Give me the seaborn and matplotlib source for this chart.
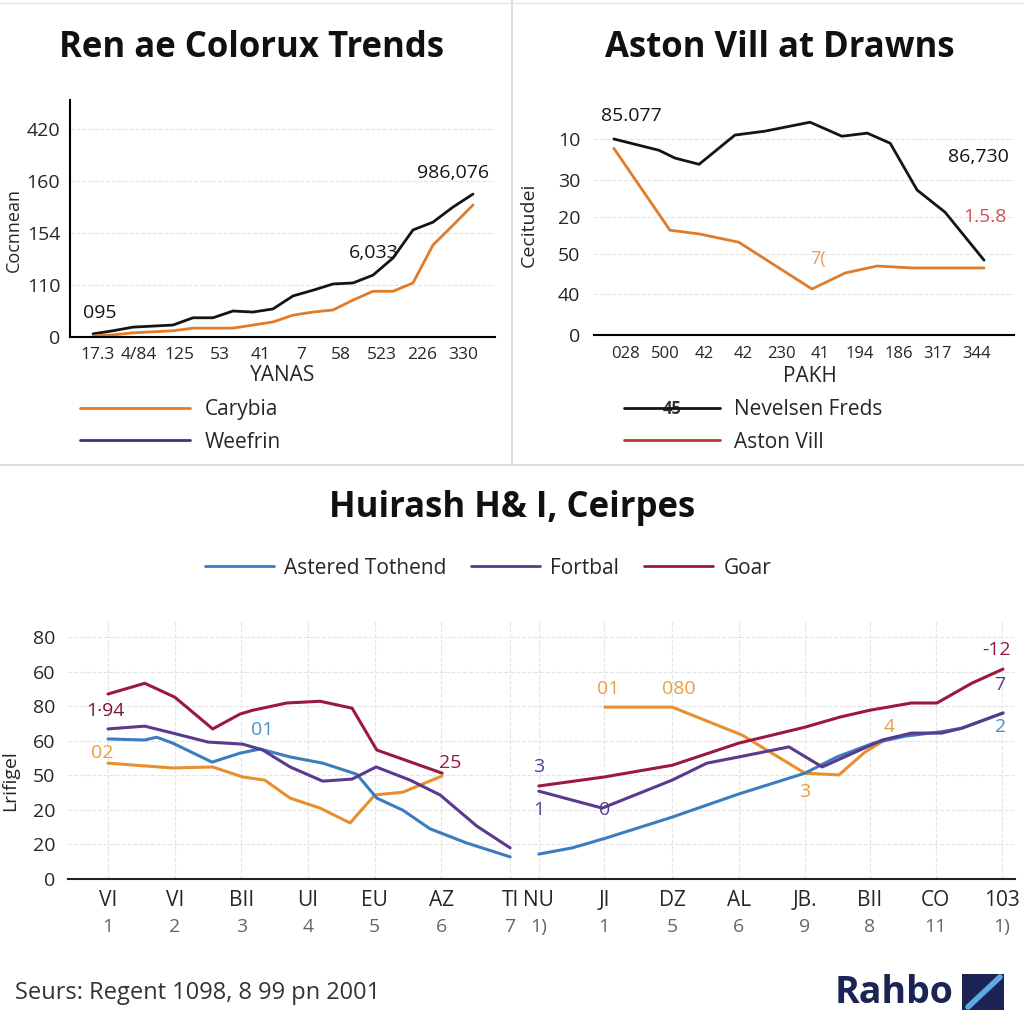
import numpy as np
import pandas as pd
import matplotlib.pyplot as plt
from matplotlib.lines import Line2D
from matplotlib.patches import Rectangle
import seaborn as sns

# ---- top left panel data
tl_xlabels = ['17.3', '4/84', '125', '53', '41', '7', '58', '523', '226', '330']
tl_ylabels = ['0', '110', '154', '160', '420']
tl_step = list(range(20))
tl_black = [0.06, 0.12, 0.19, 0.21, 0.23, 0.37, 0.37, 0.50, 0.48, 0.54,
            0.79, 0.90, 1.02, 1.04, 1.19, 1.52, 2.06, 2.21, 2.50, 2.75]
carybia = [0.02, 0.04, 0.08, 0.10, 0.12, 0.17, 0.17, 0.17, 0.23, 0.29,
           0.42, 0.48, 0.52, 0.71, 0.88, 0.88, 1.04, 1.77, 2.15, 2.54]

# ---- top right panel data
tr_xlabels = ['028', '500', '42', '42', '230', '41', '194', '186', '317', '344']
tr_ylabels = ['0', '40', '50', '20', '30', '10']
nevelsen_x = [-0.31, 0.85, 1.26, 1.88, 2.80, 3.57, 4.73, 5.55, 6.20, 6.79, 7.48, 8.20, 9.20]
nevelsen_y = [5.03, 4.74, 4.54, 4.38, 5.13, 5.23, 5.46, 5.10, 5.18, 4.92, 3.72, 3.15, 1.92]
aston_x = [-0.31, 1.13, 1.90, 2.90, 4.78, 5.63, 6.45, 7.35, 9.20]
aston_y = [4.79, 2.69, 2.59, 2.38, 1.18, 1.59, 1.77, 1.72, 1.72]

# ---- bottom panel data
b_top_labels = ['VI', 'VI', 'BII', 'UI', 'EU', 'AZ', 'TI', 'NU', 'JI', 'DZ', 'AL', 'JB.', 'BII', 'CO', '103']
b_sub_labels = ['1', '2', '3', '4', '5', '6', '7', '1)', '1', '5', '6', '9', '8', '11', '1)']
b_ylabels = ['0', '20', '20', '50', '60', '80', '60', '80']

goar_l_x = [0, 0.55, 1.0, 1.57, 1.98, 2.17, 2.68, 3.18, 3.66, 4.03, 5.01]
goar_l_y = [5.35, 5.66, 5.26, 4.34, 4.77, 4.88, 5.09, 5.14, 4.94, 3.73, 3.06]
goar_r_x = [6.46, 7.44, 8.46, 9.46, 10.45, 10.97, 11.42, 12.05, 12.43, 12.95, 13.42]
goar_r_y = [2.69, 2.95, 3.29, 3.93, 4.39, 4.68, 4.88, 5.09, 5.09, 5.66, 6.07]

fort_l_x = [0, 0.55, 0.97, 1.5, 2.02, 2.32, 2.73, 3.22, 3.66, 4.02, 4.53, 4.98, 5.53, 6.03]
fort_l_y = [4.34, 4.42, 4.22, 3.96, 3.90, 3.73, 3.24, 2.83, 2.89, 3.24, 2.86, 2.43, 1.53, 0.90]
fort_r_x = [6.46, 7.41, 8.46, 8.98, 9.46, 10.21, 10.71, 11.61, 12.05, 12.5, 12.8, 13.42]
fort_r_y = [2.54, 2.05, 2.86, 3.35, 3.53, 3.82, 3.24, 4.02, 4.22, 4.22, 4.36, 4.80]

ast_l_x = [0, 0.55, 0.73, 0.97, 1.56, 1.98, 2.28, 2.73, 3.22, 3.73, 4.03, 4.42, 4.83, 5.38, 6.03]
ast_l_y = [4.05, 4.02, 4.10, 3.93, 3.38, 3.64, 3.76, 3.53, 3.35, 3.03, 2.34, 1.99, 1.45, 1.04, 0.64]
ast_r_x = [6.46, 6.96, 7.46, 8.46, 9.46, 10.45, 10.93, 11.48, 11.95, 12.46, 12.8, 13.42]
ast_r_y = [0.72, 0.90, 1.18, 1.79, 2.46, 3.06, 3.53, 3.93, 4.13, 4.25, 4.36, 4.80]

orng_l_x = [0, 0.97, 1.57, 2.02, 2.35, 2.73, 3.18, 3.63, 4.0, 4.42, 5.01]
orng_l_y = [3.35, 3.21, 3.24, 2.95, 2.86, 2.34, 2.05, 1.62, 2.43, 2.51, 2.98]
orng_r_x = [7.45, 8.46, 9.51, 10.45, 10.96, 11.35, 11.65]
orng_r_y = [4.97, 4.97, 4.16, 3.06, 3.01, 3.67, 4.02]

sns.set_theme(style="white")
plt.rcParams['font.family'] = ['Open Sans', 'DejaVu Sans']

ORANGE = '#e07b2a'
BLACK = '#141414'
PURPLE = '#4a2d7d'
BLUE = '#3b7dbf'
FPURPLE = '#5a3a8e'
DRED = '#9a1842'
BORANGE = '#e8902e'
GRID = dict(color='#e4e4e4', linestyle='--', linewidth=0.8)

fig = plt.figure(figsize=(10.24, 10.24), dpi=100)
fig.patch.set_facecolor('white')

# panel border lines
fig.add_artist(Line2D([0.5, 0.5], [1 - 465 / 1024, 1], color='#d8d8d8', lw=1.2))
fig.add_artist(Line2D([0, 1], [1 - 465 / 1024, 1 - 465 / 1024], color='#d8d8d8', lw=1.2))
fig.add_artist(Line2D([0, 1], [0.997, 0.997], color='#e4e4e4', lw=1.0))

# ================= top left
ax1 = fig.add_axes([70 / 1024, 1 - 337 / 1024, 425 / 1024, 237 / 1024])
sns.lineplot(x=tl_step, y=tl_black, ax=ax1, color=BLACK, linewidth=2, legend=False)
sns.lineplot(x=tl_step, y=carybia, ax=ax1, color=ORANGE, linewidth=2, legend=False)
ax1.set_xlim(-1.15, 20.1)
ax1.set_ylim(0, 4.56)
ax1.set_yticks(range(5))
ax1.set_yticklabels(tl_ylabels, fontsize=14)
ax1.set_xticks(np.linspace(0.25, 18.5, 10))
ax1.set_xticklabels(tl_xlabels, fontsize=12.5)
ax1.tick_params(length=0, pad=7)
ax1.yaxis.grid(True, **GRID)
for s in ['top', 'right']:
    ax1.spines[s].set_visible(False)
for s in ['left', 'bottom']:
    ax1.spines[s].set_color('black')
    ax1.spines[s].set_linewidth(1.5)
ax1.set_xlabel('YANAS', fontsize=15)
ax1.xaxis.set_label_coords(0.5, -0.12)
ax1.set_ylabel('Cocnnean', fontsize=13)
ax1.yaxis.set_label_coords(-0.11, 0.45)
ax1.text(0.35, 0.46, '095', fontsize=14, ha='center', va='center', color=BLACK)
ax1.text(14.05, 1.62, '6,033', fontsize=14, ha='center', va='center', color=BLACK)
ax1.text(18.0, 3.15, '986,076', fontsize=14, ha='center', va='center', color=BLACK)
fig.text(252 / 1024, 1 - 48 / 1024, 'Ren ae Colorux Trends', fontsize=25,
         fontweight='bold', ha='center', va='center', color='#111')
fig.legend(handles=[Line2D([], [], color=ORANGE, lw=2), Line2D([], [], color=PURPLE, lw=2)],
           labels=['Carybia', 'Weefrin'], loc='center left',
           bbox_to_anchor=(80 / 1024, 1 - 426 / 1024), frameon=False, fontsize=15,
           handlelength=5.3, handletextpad=0.7, labelspacing=0.55, borderpad=0, borderaxespad=0)

# ================= top right
ax2 = fig.add_axes([594 / 1024, 1 - 335 / 1024, 420 / 1024, 235 / 1024])
sns.lineplot(x=nevelsen_x, y=nevelsen_y, ax=ax2, color=BLACK, linewidth=2, legend=False)
sns.lineplot(x=aston_x, y=aston_y, ax=ax2, color=ORANGE, linewidth=2, legend=False)
ax2.set_xlim(-0.82, 9.97)
ax2.set_ylim(0, 6.03)
ax2.set_yticks([0, 1.05, 2.08, 3.03, 3.97, 5.03])
ax2.set_yticklabels(tr_ylabels, fontsize=14)
ax2.set_xticks(range(10))
ax2.set_xticklabels(tr_xlabels, fontsize=12)
ax2.tick_params(length=0, pad=8)
ax2.tick_params(axis='y', pad=10)
ax2.yaxis.grid(True, **GRID)
for s in ['top', 'right', 'left']:
    ax2.spines[s].set_visible(False)
ax2.spines['bottom'].set_color('black')
ax2.spines['bottom'].set_linewidth(1.5)
ax2.set_xlabel('PAKH', fontsize=15)
ax2.xaxis.set_label_coords(0.514, -0.13)
ax2.set_ylabel('Cecitudei', fontsize=14)
ax2.yaxis.set_label_coords(-0.135, 0.47)
ax2.text(0.13, 5.62, '85.077', fontsize=14, ha='center', va='center', color=BLACK)
ax2.text(9.05, 4.56, '86,730', fontsize=14, ha='center', va='center', color=BLACK)
ax2.text(9.23, 3.03, '1.5.8', fontsize=14, ha='center', va='center', color='#d05050')
ax2.text(4.94, 1.95, '7(', fontsize=13, ha='center', va='center', color='#e0a060')
fig.text(780 / 1024, 1 - 48 / 1024, 'Aston Vill at Drawns', fontsize=25,
         fontweight='bold', ha='center', va='center', color='#111')
fig.legend(handles=[Line2D([], [], color=BLACK, lw=2), Line2D([], [], color='#c0392b', lw=2)],
           labels=['Nevelsen Freds', 'Aston Vill'], loc='center left',
           bbox_to_anchor=(624 / 1024, 1 - 426 / 1024), frameon=False, fontsize=15,
           handlelength=4.6, handletextpad=0.7, labelspacing=0.55, borderpad=0, borderaxespad=0)
fig.text(672 / 1024, 1 - 409 / 1024, '45', fontsize=12, fontweight='bold', ha='center',
         va='center', color='#333', bbox=dict(facecolor='white', edgecolor='none', pad=0.5))

# ================= bottom
ax3 = fig.add_axes([68 / 1024, 1 - 879 / 1024, 947 / 1024, 259 / 1024])
for xs, ys, c in [(orng_l_x, orng_l_y, BORANGE), (orng_r_x, orng_r_y, BORANGE),
                  (ast_l_x, ast_l_y, BLUE), (ast_r_x, ast_r_y, BLUE),
                  (fort_l_x, fort_l_y, FPURPLE), (fort_r_x, fort_r_y, FPURPLE),
                  (goar_l_x, goar_l_y, DRED), (goar_r_x, goar_r_y, DRED)]:
    sns.lineplot(x=xs, y=ys, ax=ax3, color=c, linewidth=2.2, legend=False)
b_ticks = [0, 1, 2, 3, 4, 5, 6.03, 6.46, 7.44, 8.46, 9.46, 10.45, 11.42, 12.41, 13.4]
ax3.set_xlim(-0.6, 13.6)
ax3.set_ylim(0, 7.49)
ax3.set_yticks(range(8))
ax3.set_yticklabels(b_ylabels, fontsize=14)
ax3.set_xticks(b_ticks)
ax3.set_xticklabels(b_top_labels, fontsize=15)
ax3.tick_params(length=0, pad=8)
ax3.tick_params(axis='y', pad=9)
ax3.grid(True, **GRID)
for s in ['top', 'right', 'left']:
    ax3.spines[s].set_visible(False)
ax3.spines['bottom'].set_color('#222')
ax3.spines['bottom'].set_linewidth(1.5)
for xt, lab in zip(b_ticks, b_sub_labels):
    ax3.text(xt, -0.185, lab, transform=ax3.get_xaxis_transform(), fontsize=14,
             ha='center', va='center', color='#666')
ax3.set_ylabel('Lrifigel', fontsize=14)
ax3.yaxis.set_label_coords(-0.052, 0.38)
notes = [(-0.04, 4.86, '1·94', '#7a1533'), (-0.09, 3.64, '02', '#e6a040'),
         (2.31, 4.31, '01', '#4a90c8'), (5.13, 3.35, '25', DRED),
         (6.46, 3.24, '3', FPURPLE), (6.46, 1.99, '1', FPURPLE), (7.44, 1.99, '0', FPURPLE),
         (7.5, 5.49, '01', '#e6a040'), (8.56, 5.49, '080', '#e6a040'),
         (10.45, 2.51, '3', '#e6a040'), (11.72, 4.39, '4', '#e6a040'),
         (13.33, 6.62, '-12', DRED), (13.37, 5.61, '7', FPURPLE), (13.39, 4.39, '2', '#4a90c8')]
for x, y, t, c in notes:
    ax3.text(x, y, t, fontsize=14, ha='center', va='center', color=c)
fig.text(512 / 1024, 1 - 508 / 1024, 'Huirash H& I, Ceirpes', fontsize=25,
         fontweight='bold', ha='center', va='center', color='#111')
fig.legend(handles=[Line2D([], [], color=BLUE, lw=2), Line2D([], [], color=FPURPLE, lw=2),
                    Line2D([], [], color=DRED, lw=2)],
           labels=['Astered Tothend', 'Fortbal', 'Goar'], loc='center',
           bbox_to_anchor=(488 / 1024, 1 - 568 / 1024), ncol=3, frameon=False, fontsize=15,
           handlelength=3.3, handletextpad=0.5, columnspacing=1.2, borderpad=0, borderaxespad=0)

# ================= footer
fig.text(15 / 1024, 1 - 993 / 1024, 'Seurs: Regent 1098, 8 99 pn 2001', fontsize=17,
         ha='left', va='center', color='#333')
fig.text(835 / 1024, 1 - 993 / 1024, 'Rahbo', fontsize=27, fontweight='bold',
         ha='left', va='center', color='#1b2452')
fig.add_artist(Rectangle((962 / 1024, 1 - 1010 / 1024), 42 / 1024, 36 / 1024,
                         facecolor='#1b2452', edgecolor='none'))
fig.add_artist(Line2D([968 / 1024, 1000 / 1024], [1 - 1007 / 1024, 1 - 977 / 1024],
                      color='#5fa8e8', lw=4))

fig.savefig('out.png', dpi=100, facecolor='white')
